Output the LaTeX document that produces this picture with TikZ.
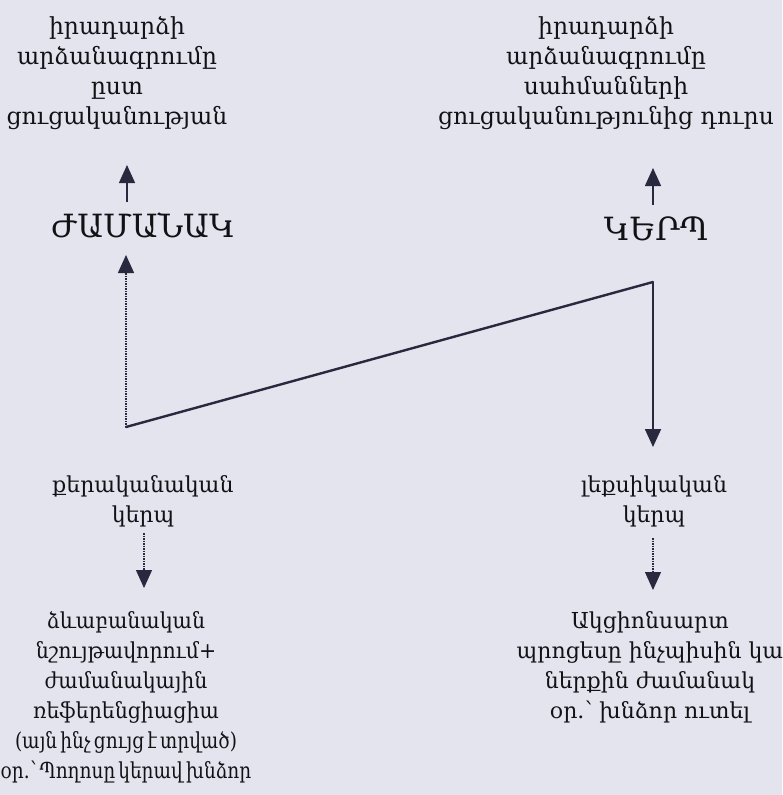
\documentclass[tikz,border=0pt]{standalone}
\usepackage{fontspec}
\setmainfont{DejaVu Serif}
\newfontfamily\armfont{DejaVu Serif}
\newfontfamily\armnarrow[FakeStretch=0.93,WordSpace=0.6]{DejaVu Serif}
\newfontfamily\armtight[FakeStretch=0.84,WordSpace=0.55]{DejaVu Serif}
\usetikzlibrary{arrows.meta}
\definecolor{bgc}{RGB}{228,228,238}
\definecolor{linec}{RGB}{40,40,62}
\definecolor{txtc}{RGB}{18,18,22}
\tikzset{
  body/.style={font=\armfont\fontsize{22}{30}\selectfont, text=txtc, align=center, inner sep=0pt, anchor=north},
  bodytop/.style={body, font=\armfont\fontsize{23.5}{30}\selectfont},
  bodynarrow/.style={body, font=\armnarrow\fontsize{22}{30}\selectfont},
  label/.style={font=\armfont\fontsize{32}{36}\selectfont, text=txtc, inner sep=0pt, anchor=base},
  tip/.style={-{Triangle[length=18pt,width=16pt]}},
  thinarrow/.style={tip, draw=linec, line width=1.4pt},
  dotarrow/.style={tip, draw=linec, line width=1.5pt, densely dotted},
  mainline/.style={draw=linec, line width=2.4pt, line cap=round},
}
\begin{document}
\begin{tikzpicture}[x=1pt,y=-1pt]
\fill[bgc] (0,0) rectangle (782,795);
\useasboundingbox (0,0) rectangle (782,795);

% text nodes
\node[bodytop] (tl) at (117,16) {իրադարձի\\արձանագրումը\\ըստ\\ցուցականության};
\node[bodytop] (tr) at (606,16) {իրադարձի\\արձանագրումը\\սահմանների\\ցուցականությունից դուրս};
\node[label] (time) at (143,237) {ԺԱՄԱՆԱԿ};
\node[label] (aspect) at (656,240) {ԿԵՐՊ};
\node[body] (gram) at (143,475) {քերականական\\կերպ};
\node[body] (lex) at (654,475) {լեքսիկական\\կերպ};
\node[bodynarrow] (morph) at (126,611) {ձևաբանական\\նշույթավորում+\\ժամանակային\\ռեֆերենցիացիա\\{\armtight (այն ինչ ցույց է տրված)}\\{\armtight օր.՝ Պողոսը կերավ խնձոր}};
\node[body] (akt) at (650,611) {Ակցիոնսարտ\\պրոցեսը ինչպիսին կա\\ներքին ժամանակ\\օր.՝ խնձոր ուտել};

% connector points
\coordinate (v1) at (126,427);
\coordinate (v2) at (653,282);
\coordinate (timeIn) at (126,255);
\coordinate (timeOut) at (127,202);
\coordinate (tlIn) at (127,165);
\coordinate (aspOut) at (653,205);
\coordinate (trIn) at (653,168);
\coordinate (lexIn) at (653,447);
\coordinate (gramOut) at (144,533);
\coordinate (morphIn) at (144,588);
\coordinate (lexOut) at (653,538);
\coordinate (aktIn) at (653,590);

% connectors
\draw[dotarrow] (v1) -- (timeIn);
\draw[mainline] (v1) -- (v2);
\draw[thinarrow, line width=1.8pt] (v2) -- (lexIn);
\draw[thinarrow] (timeOut) -- (tlIn);
\draw[thinarrow] (aspOut) -- (trIn);
\draw[dotarrow, line width=1.2pt] (gramOut) -- (morphIn);
\draw[dotarrow, line width=1.2pt] (lexOut) -- (aktIn);
\end{tikzpicture}
\end{document}
